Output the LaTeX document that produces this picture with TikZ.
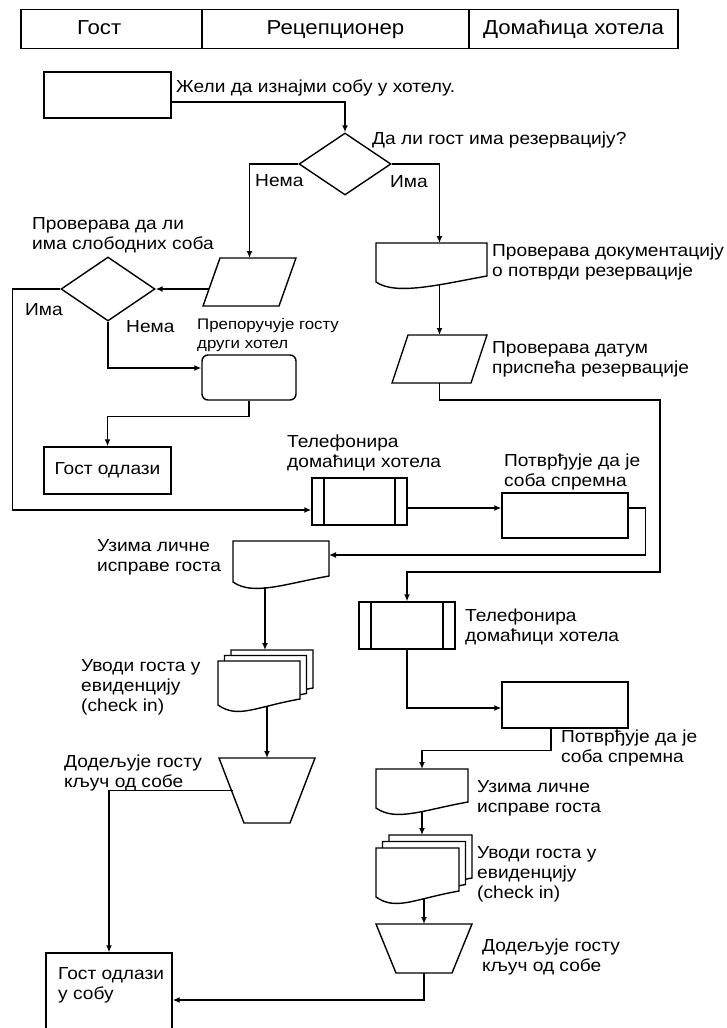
\documentclass[tikz,border=0pt]{standalone}
\usepackage{fontspec}
\setmainfont{Liberation Sans}[FakeStretch=1.1]
\usetikzlibrary{arrows.meta,shapes.geometric}

\tikzset{
  ln/.style={line width=1.4pt},
  flow/.style={ln, -{Latex[length=7pt,width=6pt]}},
  box/.style={ln, draw, fill=white, rectangle, inner sep=0pt},
  frame/.style={rectangle, inner sep=0pt, outer sep=0pt},
  procbox/.style={box, path picture={
      \draw[ln] ([xshift=12pt]path picture bounding box.north west) -- ([xshift=12pt]path picture bounding box.south west);
      \draw[ln] ([xshift=-12pt]path picture bounding box.north east) -- ([xshift=-12pt]path picture bounding box.south east);}},
  txt/.style={font=\fontsize{17.4}{20}\selectfont, align=left, anchor=west, inner sep=0pt},
  smalltxt/.style={txt, font=\fontsize{15.3}{19}\selectfont},
  head/.style={font=\fontsize{20.2}{22}\selectfont, text height=14pt, text depth=4pt}
}

% outlines drawn round the plain frames
\newcommand{\docshape}[1]{%
  \draw[ln, fill=white] (#1.south west) -- (#1.north west) -- (#1.north east)
    -- ([yshift=6pt]#1.south east)
    .. controls ([xshift=-45pt,yshift=-2pt]#1.south east) and ([xshift=20pt,yshift=-14pt]#1.south west) .. (#1.south west) -- cycle;}
\newcommand{\paral}[2]{%
  \draw[ln, fill=white] ([xshift=#2]#1.north west) -- (#1.north east)
    -- ([xshift=-#2]#1.south east) -- (#1.south west) -- cycle;}
\newcommand{\manop}[2]{%
  \draw[ln, fill=white] (#1.north west) -- (#1.north east)
    -- ([xshift=-#2]#1.south east) -- ([xshift=#2]#1.south west) -- cycle;}

\begin{document}
\begin{tikzpicture}[x=1pt,y=-1pt]
  \useasboundingbox (0,0) rectangle (727,1028);
  \clip (0,0) rectangle (727,1028);

  % header
  \node[box, head, text width=69pt, minimum width=181pt, minimum height=39pt] (gost) at (111.5,29) {Гост};
  \node[box, head, minimum width=267pt, minimum height=39pt] (recep) at (335.5,29) {Рецепционер};
  \node[box, head, minimum width=209pt, minimum height=39pt] (domac) at (573.5,29) {Домаћица хотела};

  % left and middle part
  \node[box, minimum width=127pt, minimum height=46pt] (start) at (107.5,95) {};
  \node[box, diamond, minimum width=92pt, minimum height=62pt] (q1) at (345,164) {};
  \node[frame, minimum width=93pt, minimum height=48pt] (prep) at (249.5,282) {};
  \node[box, diamond, minimum width=94pt, minimum height=64pt] (q2) at (108,289) {};
  \node[box, rounded corners=6pt, minimum width=94pt, minimum height=45pt] (alt) at (249,377.5) {};
  \node[box, txt, anchor=center, minimum width=127pt, minimum height=47pt] (leave) at (107.5,470.5) {Гост одлази};
  \node[procbox, minimum width=95pt, minimum height=47pt] (tel1) at (359.5,501.5) {};
  \node[box, minimum width=126pt, minimum height=45pt] (conf1) at (565,515.5) {};
  \node[frame, minimum width=96pt, minimum height=41pt] (take1) at (281,561.5) {};
  \node[frame, minimum width=82pt, minimum height=44pt] (reg1b) at (272,672) {};
  \node[frame, minimum width=82pt, minimum height=44pt] (reg1m) at (265.5,677.5) {};
  \node[frame, minimum width=82pt, minimum height=44pt] (reg1) at (259,683) {};
  \node[frame, minimum width=96pt, minimum height=65pt] (key1) at (267,790.5) {};
  \node[box, minimum width=126pt, minimum height=84pt] (room) at (109,995) {};

  % right part
  \node[frame, minimum width=111pt, minimum height=39pt] (docs) at (431.5,262.5) {};
  \node[frame, minimum width=95pt, minimum height=48pt] (date) at (439.5,359) {};
  \node[procbox, minimum width=96pt, minimum height=47pt] (tel2) at (407,625.5) {};
  \node[box, minimum width=126pt, minimum height=46pt] (conf2) at (565,705) {};
  \node[frame, minimum width=92pt, minimum height=39pt] (take2) at (422,788.5) {};
  \node[frame, minimum width=83pt, minimum height=49pt] (reg2b) at (430.5,859.5) {};
  \node[frame, minimum width=83pt, minimum height=49pt] (reg2m) at (424,866) {};
  \node[frame, minimum width=83pt, minimum height=49pt] (reg2) at (417.5,872.5) {};
  \node[frame, minimum width=96pt, minimum height=49pt] (key2) at (424,948.5) {};

  \paral{prep}{17pt}
  \paral{date}{16pt}
  \docshape{docs}
  \docshape{take1}
  \docshape{reg1b}
  \docshape{reg1m}
  \docshape{reg1}
  \docshape{take2}
  \docshape{reg2b}
  \docshape{reg2m}
  \docshape{reg2}
  \manop{key1}{25pt}
  \manop{key2}{20pt}

  % texts
  \node[txt] (t-start) at (176,88) {Жели да изнајми собу у хотелу.};
  \node[txt] (t-q1) at (372,140) {Да ли гост има резервацију?};
  \node[txt] (t-no1) at (255,181) {Нема};
  \node[txt] (t-yes1) at (390,182) {Има};
  \node[txt] (t-docs) at (492,262) {Проверава документацију\\о потврди резервације};
  \node[txt] (t-date) at (492,359.5) {Проверава датум\\приспећа резервације};
  \node[txt] (t-q2) at (32,235) {Проверава да ли\\има слободних соба};
  \node[txt] (t-yes2) at (25,310) {Има};
  \node[txt] (t-no2) at (126,327) {Нема};
  \node[smalltxt] (t-prep) at (197,335.5) {Препоручује госту\\други хотел};
  \node[txt] (t-tel1) at (287,453) {Телефонира\\домаћици хотела};
  \node[txt] (t-conf1) at (504,472) {Потврђује да је\\соба спремна};
  \node[txt] (t-take1) at (97,557.5) {Узима личне\\исправе госта};
  \node[txt] (t-reg1) at (81,687) {Уводи госта у\\евиденцију\\(check in)};
  \node[txt] (t-key1) at (64,772.5) {Додељује госту\\кључ од собе};
  \node[txt] (t-tel2) at (465,627) {Телефонира\\домаћици хотела};
  \node[txt] (t-conf2) at (561,748) {Потврђује да је\\соба спремна};
  \node[txt] (t-take2) at (477,798.5) {Узима личне\\исправе госта};
  \node[txt] (t-reg2) at (477,874) {Уводи госта у\\евиденцију\\(check in)};
  \node[txt] (t-key2) at (482,957) {Додељује госту\\кључ од собе};
  \node[txt] (t-room) at (58,985) {Гост одлази\\у собу};

  % connectors
  \draw[flow] ([yshift=-7pt]start.east) -| (q1.north);
  \draw[flow] (q1.west) -| (prep.north);
  \draw[flow] (q1.east) -| (date.north |- docs.north);
  \draw[flow] ([yshift=-2pt]date.north |- docs.south) -- (date.north);
  \draw[flow] (date.south) |- (660,400) -- (660,572) -| (tel2.north);
  \draw[flow] ([xshift=5.7pt]prep.west |- q2.east) -- (q2.east);
  \draw[flow] (q2.south) |- ([yshift=9.5pt]alt.west);
  \draw[flow] (alt.south) -- ++(0,16) -| (leave.north);
  \draw[flow] (q2.west) -- ++(-48,0) |- ([yshift=-8.5pt]tel1.west);
  \draw[flow] ([yshift=-6.5pt]tel1.east) -- ([yshift=-6.5pt]tel1.east -| conf1.west);
  \draw[flow] ([yshift=7.5pt]conf1.east) -- ++(17,0) |- ([yshift=6.5pt]take1.east);
  \draw[flow] ([xshift=-16pt,yshift=-5pt]take1.south) -- ([xshift=-16pt]take1.south |- reg1b.north);
  \draw[flow] ([yshift=-2pt]key1.north |- reg1.south) -- (key1.north);
  \draw[flow] ([xshift=14pt]key1.west) -| (room.north);
  \draw[flow] (tel2.south) |- ([yshift=-3pt]conf2.west);
  \draw[flow] ([xshift=-14pt]conf2.south) -- ++(0,22) -| (take2.north);
  \draw[flow] ([yshift=-3pt]take2.south) -- (take2.south |- reg2b.north);
  \draw[flow] ([yshift=-2pt]key2.north |- reg2.south) -- (key2.north);
  \draw[flow] (key2.south) |- ([yshift=-5pt]room.east);
\end{tikzpicture}
\end{document}
